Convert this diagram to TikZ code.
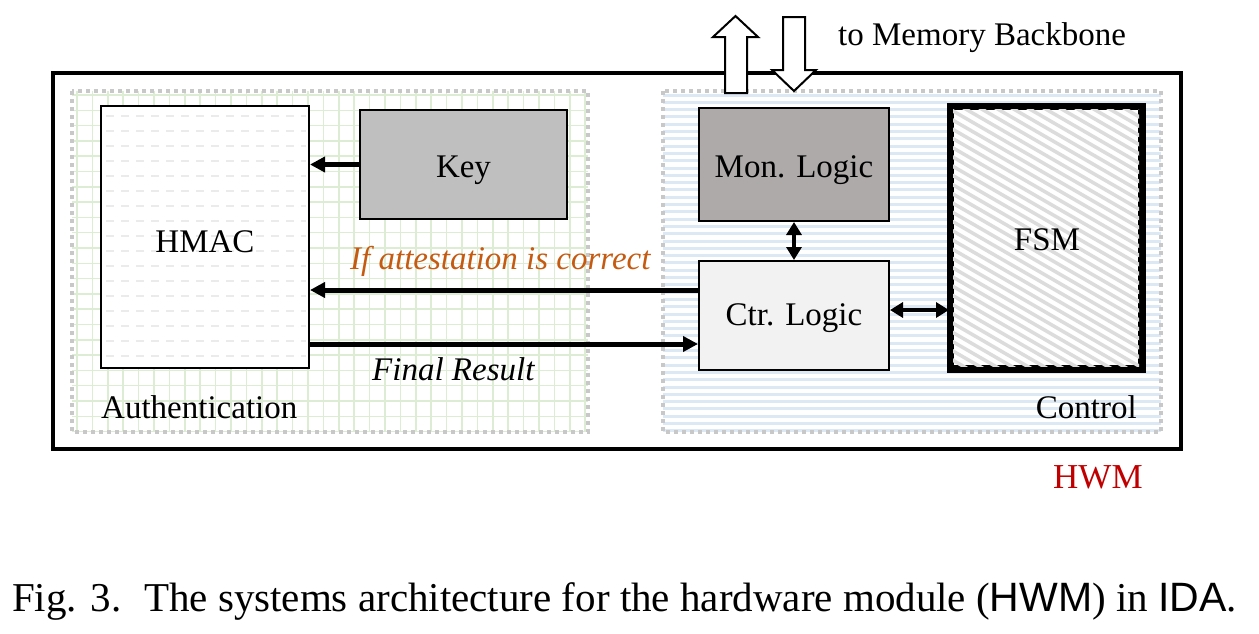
\documentclass[tikz,border=0pt]{standalone}
\usepackage{fontspec}
\setmainfont{Liberation Serif}
\newfontfamily\helv{Liberation Sans}
\usetikzlibrary{arrows.meta}
\definecolor{gridgreen}{HTML}{DDEDD4}
\definecolor{stripeblue}{HTML}{DDE8F5}
\definecolor{dotgrey}{HTML}{C8C8C8}
\definecolor{dashgrey}{HTML}{EBEBEB}
\definecolor{hatchgrey}{HTML}{DCDCDC}
\definecolor{keyfill}{HTML}{BFBFBF}
\definecolor{monfill}{HTML}{AEAAAA}
\definecolor{ctrfill}{HTML}{F2F2F2}
\definecolor{orangetext}{HTML}{C55A11}
\definecolor{hwmred}{HTML}{C00000}
\begin{document}
\begin{tikzpicture}[x=1pt,y=-1pt,
  every node/.style={font=\fontsize{33}{40}\selectfont},
  blk/.style={draw=black, line width=2pt, rectangle, inner sep=0pt, text depth=0pt},
  arr/.style={line width=5pt, -{Triangle[length=15pt,width=15pt]}},
  darr/.style={line width=4pt, {Triangle[length=13pt,width=15pt]}-{Triangle[length=13pt,width=15pt]}},
  region/.style={dotgrey, line width=4pt, dash pattern=on 4pt off 4pt},
  hollow/.style={draw=black, fill=white, line width=2pt, line join=miter},
  lbl/.style={inner sep=0pt}
]
\useasboundingbox (0,0) rectangle (1259,633);

% Authentication region grid
\begin{scope}
  \clip (72,91) rectangle (588,432);
  \foreach \x in {77,92.4,...,590} \draw[gridgreen, line width=1.5pt] (\x,91) -- (\x,432);
  \foreach \y in {95,110.3,...,432} \draw[gridgreen, line width=1.5pt] (72,\y) -- (588,\y);
\end{scope}
\draw[region] (72,91) rectangle (588,432);

% Control region stripes
\begin{scope}
  \clip (663,91) rectangle (1161,432);
  \foreach \y in {95,102.3,...,432} \draw[stripeblue, line width=3pt] (663,\y) -- (1161,\y);
\end{scope}
\draw[region] (663,91) rectangle (1161,432);

% Outer HWM box
\draw[line width=4pt] (53,73) rectangle (1181,449);

% HMAC box
\node[blk, fill=white, minimum width=208pt, minimum height=262pt] (hmac) at (205,237) {};
\begin{scope}
  \clip (102,107) rectangle (308,367);
  \foreach \y in {116,131,...,366} \draw[dashgrey, line width=1.5pt, dash pattern=on 8pt off 7pt] (106,\y) -- (306,\y);
\end{scope}
\node[lbl, anchor=base] (hmacT) at (205,252) {HMAC};

% Key
\node[blk, fill=keyfill, minimum width=207pt, minimum height=109pt, text height=25pt] (key) at (463.5,164.5) {Key};

% Mon. Logic
\node[blk, fill=monfill, minimum width=190pt, minimum height=113pt, text height=25pt] (mon) at (794,164.5) {Mon. Logic};

% Ctr. Logic
\node[blk, fill=ctrfill, minimum width=190pt, minimum height=109pt, text height=19pt] (ctr) at (794,315.5) {Ctr. Logic};

% FSM
\node[draw=black, line width=5pt, fill=white, inner sep=0pt, minimum width=189pt, minimum height=260pt] (fsm) at (1046,237.5) {};
\begin{scope}
  \clip (953,109) rectangle (1139,366);
  \foreach \x in {470,486,...,1160} \draw[hatchgrey, line width=3.5pt] (\x,100) -- ++(480,277);
\end{scope}
\draw[line width=5pt] (fsm.north west) rectangle (fsm.south east);
\node[lbl, anchor=base] (fsmT) at (1047,250) {FSM};

% Connector end points
\coordinate (ctrA) at ([yshift=25.5pt]ctr.west);
\coordinate (ctrB) at ([yshift=-28.5pt]ctr.west);
\coordinate (ctrC) at ([yshift=5.5pt]ctr.east);

% Arrows
\draw[arr] (key.west) -- (hmac.east |- key.west);
\draw[arr] (ctrA) -- (hmac.east |- ctrA);
\draw[arr] (hmac.east |- ctrB) -- (ctrB);
\draw[darr] (mon.south) -- (ctr.north);
\draw[darr] (ctrC) -- (fsm.west |- ctrC);

% Hollow arrows to memory backbone
\draw[hollow] (725,93) -- (725,37) -- (713,37) -- (735.5,16) -- (758,37) -- (747,37) -- (747,93) -- cycle;
\draw[hollow] (783,17) -- (805,17) -- (805,70) -- (816,70) -- (794,91) -- (772,70) -- (783,70) -- cycle;

% Texts
\node[lbl, anchor=base west] (mem) at (838,45) {to Memory Backbone};
\node[lbl, anchor=base west, text=orangetext] (att) at (350,269) {\itshape If attestation is correct};
\node[lbl, anchor=base west] (fin) at (372,380) {\itshape Final Result};
\node[lbl, anchor=base west] (auth) at (101,418) {Authentication};
\node[lbl, anchor=base east] (ctl) at (1137,418) {Control};
\node[lbl, anchor=base west, text=hwmred, font=\fontsize{35}{42}\selectfont] (hwm) at (1053,488) {HWM};

% Caption
\node[lbl, anchor=base west, font=\fontsize{41}{48}\selectfont] (cap) at (12,611) {Fig. 3.\hspace{0.55em}The systems architecture for the hardware module ({\helv HWM}) in {\helv IDA}.};
\end{tikzpicture}
\end{document}
